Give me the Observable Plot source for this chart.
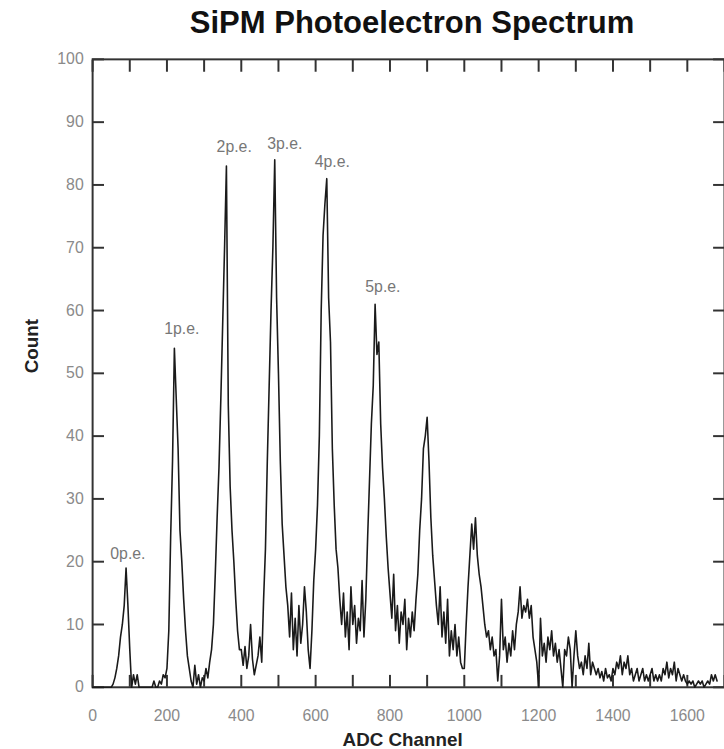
<!DOCTYPE html>
<html>
<head>
<meta charset="utf-8">
<script src="https://cdn.jsdelivr.net/npm/d3@7"></script>
<script src="https://cdn.jsdelivr.net/npm/@observablehq/plot@0.6"></script>
<style>
  html, body { margin: 0; padding: 0; background: #fff; overflow: hidden; }
  #wrap { position: relative; width: 724px; height: 749px; }
  #title { position: absolute; left: 93px; width: 638px; top: 0; height: 45px; line-height: 45px;
           text-align: center; font-family: "Liberation Sans", Arial, sans-serif; font-weight: bold;
           font-size: 31px; color: #111; white-space: nowrap; }
  #chart { position: absolute; left: 0; top: 45px; }
</style>
</head>
<body>
<div id="wrap">
  <div id="title">SiPM Photoelectron Spectrum</div>
  <div id="chart"></div>
</div>
<script>
// ADC spectrum: counts per 5-channel step starting at channel 0
const binStart = 0;
const binWidth = 5;
const counts = [
  // 0 - 95
  0, 0, 0, 0, 0, 0, 0, 0, 0, 0, 0, 0.5, 1.5, 3, 5, 8, 10, 13, 19, 13,
  // 100 - 195
  6, 0, 2, 0.5, 2, 0, 0, 0, 0, 0, 0, 0, 0, 1, 0, 0, 1, 0.5, 2, 1.5,
  // 200 - 295
  3, 9, 24, 36, 54, 46, 38, 25, 20, 14, 9, 5, 3, 1, 0, 3.5, 0.5, 2, 0, 1.5,
  // 300 - 395
  1, 3, 1.5, 4, 6, 10, 18, 27, 35, 46, 58, 70, 83, 45, 32, 25, 20, 14, 9, 6,
  // 400 - 495
  6, 3.5, 6.5, 3, 5, 10, 4.5, 2, 3.5, 5, 8, 4, 14, 22, 36, 48, 60, 70, 84, 62,
  // 500 - 595
  50, 36, 26, 21, 16, 13, 8, 15, 6, 11, 5, 13, 7, 10, 16, 12, 6, 3, 9, 17,
  // 600 - 695
  22, 29, 40, 60, 72, 77, 81, 62, 55, 38, 29, 22, 19, 14, 10, 15, 8, 12, 6, 16,
  // 700 - 795
  10, 13, 7, 11, 9, 17, 8, 14, 24, 33, 42, 48, 61, 53, 55, 42, 35, 30, 24, 19,
  // 800 - 895
  15, 11, 18, 9, 13, 7, 12, 10, 14, 6, 11, 8, 12, 9, 14, 18, 25, 30, 38, 40,
  // 900 - 995
  43, 36, 27, 21, 17, 13, 10, 16, 8, 12, 7, 14, 5, 9, 6, 10, 5, 8, 4, 3,
  // 1000 - 1095
  3, 10, 16, 21, 26, 22, 27, 21, 18, 16, 13, 10, 8, 9, 6, 8, 5, 6, 1, 5,
  // 1100 - 1195
  14, 6, 8, 4, 7, 5, 9, 6, 10, 12, 16, 11, 13, 12, 14, 11, 13, 8, 6, 4,
  // 1200 - 1295
  0, 11, 5, 7, 4, 8, 6, 9, 5, 7, 4, 6, 3, 0, 6, 5, 8, 6, 0, 5,
  // 1300 - 1395
  9, 5, 3, 4, 2, 5, 3, 7, 2, 4, 3, 2, 3, 1.5, 2.5, 1, 3, 1.5, 2, 1,
  // 1400 - 1495
  3, 2, 4, 3, 5, 2, 4, 3, 5, 2, 3, 1, 2, 3, 1, 2, 3, 1, 2, 1,
  // 1500 - 1595
  2, 3, 1, 2, 1, 2, 1, 3, 2, 4, 1.5, 3, 2, 4, 1, 3, 2, 1, 2, 1,
  // 1600 - 1680
  0.5, 1, 0.5, 1, 0, 0.5, 1, 0.5, 1, 0, 0.5, 1, 0.5, 2, 1, 2, 1
];

const peakLabels   = ["0p.e.", "1p.e.", "2p.e.", "3p.e.", "4p.e.", "5p.e."];
const labelChannel = [95, 240, 381, 517, 645, 781];
const labelCount   = [21.2, 57, 86, 86.5, 83.7, 63.7];

const xTicks      = [0, 100, 200, 300, 400, 500, 600, 700, 800, 900, 1000, 1100, 1200, 1300, 1400, 1500, 1600, 1700];
const xTickLabels = [0, 200, 400, 600, 800, 1000, 1200, 1400, 1600];
const yTicks      = [0, 10, 20, 30, 40, 50, 60, 70, 80, 90, 100];

const spectrum = counts.map((c, i) => ({channel: binStart + i * binWidth, count: c}));
const labels = peakLabels.map((t, i) => ({text: t, channel: labelChannel[i], count: labelCount[i]}));

const tickStyle = {stroke: "#333", strokeWidth: 2};
const font = "'Liberation Sans', Arial, sans-serif";

const plot = Plot.plot({
  width: 731,
  height: 704,
  marginLeft: 93,
  marginRight: 0,
  marginTop: 14,
  marginBottom: 56,
  style: {fontFamily: font, background: "#fff", overflow: "visible"},
  x: {domain: [0, 1700], label: null},
  y: {domain: [0, 100], label: null},
  marks: [
    Plot.frame({stroke: "#333", strokeWidth: 2}),
    // inward tick marks on all four sides
    Plot.axisX(xTicks, {anchor: "bottom", tickSize: -12, text: null, ...tickStyle}),
    Plot.axisX(xTicks, {anchor: "top", tickSize: -12, text: null, ...tickStyle}),
    Plot.axisY(yTicks, {anchor: "left", tickSize: -12, text: null, ...tickStyle}),
    Plot.axisY(yTicks, {anchor: "right", tickSize: -12, text: null, ...tickStyle}),
    // tick labels
    Plot.axisX(xTickLabels, {anchor: "bottom", tickSize: 0, tickPadding: 23, tickFormat: d => String(d), fill: "#8a8a8a", fontSize: 16, label: null}),
    Plot.axisY(yTicks, {anchor: "left", tickSize: 0, tickPadding: 9, tickFormat: d => String(d), fill: "#8a8a8a", fontSize: 16, label: null}),
    // spectrum
    Plot.lineY(spectrum, {x: "channel", y: "count", stroke: "#1a1a1a", strokeWidth: 1.6}),
    // peak annotations
    Plot.text(labels, {x: "channel", y: "count", text: "text", fill: "#777", fontSize: 16}),
    // axis titles
    Plot.text(["ADC Channel"], {frameAnchor: "bottom", dy: 59, dx: -6, text: d => d, fontWeight: "bold", fontSize: 19, fill: "#222"}),
    Plot.text(["Count"], {frameAnchor: "left", dx: -61, dy: 0, rotate: -90, text: d => d, fontWeight: "bold", fontSize: 19, fill: "#222"})
  ]
});
document.getElementById("chart").appendChild(plot);
</script>
</body>
</html>
